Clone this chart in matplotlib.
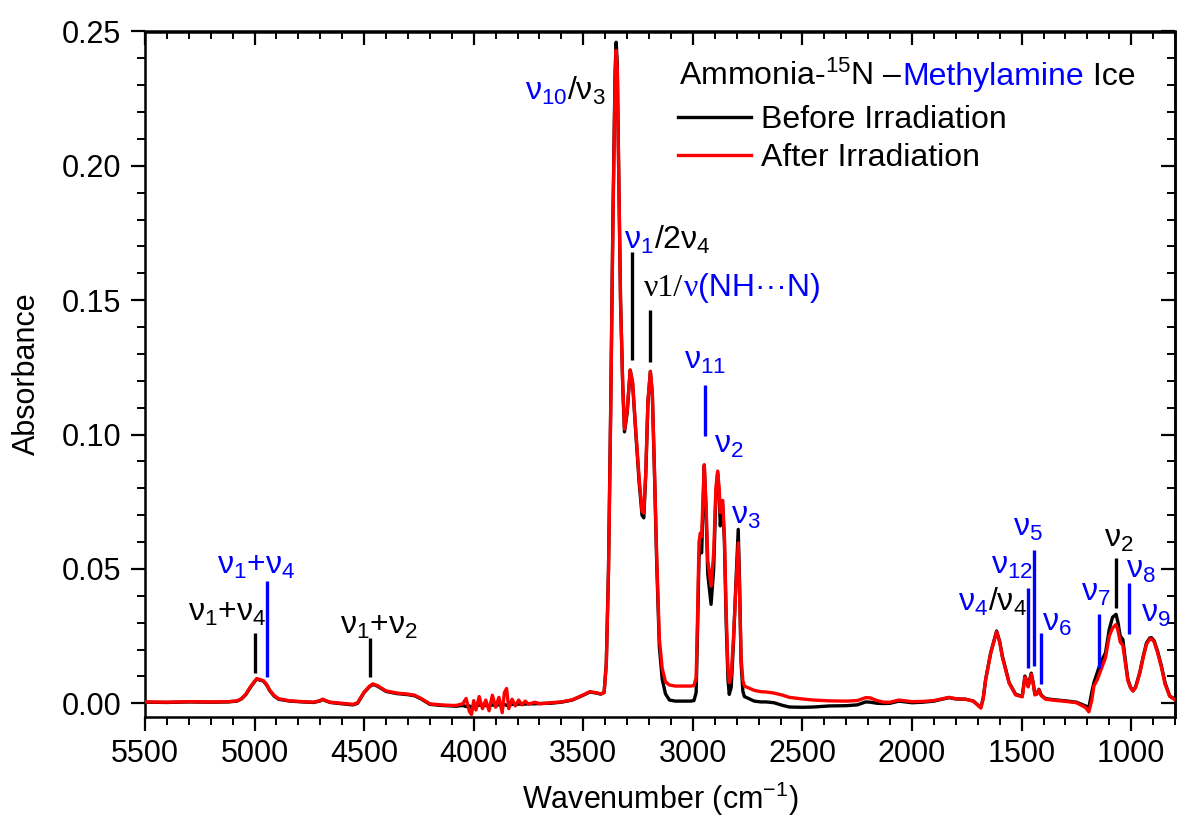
# IR spectrum: ammonia-15N / methylamine ice before and after irradiation
import matplotlib
matplotlib.use("Agg")
import matplotlib.pyplot as plt
import matplotlib.ticker as mtick
from matplotlib.offsetbox import TextArea, HPacker, AnnotationBbox

blue  = "#0000ff"
red   = "#ff0000"
black = "#000000"

plt.rcParams.update({
    "font.family":        ["Liberation Sans", "DejaVu Sans"],
    "mathtext.fontset":   "custom",
    "mathtext.rm":        "Liberation Sans",
    "mathtext.it":        "Liberation Sans",
    "mathtext.bf":        "Liberation Sans:bold",
    "mathtext.default":   "regular",
    "axes.linewidth":     1.8,
    "xtick.major.width":  1.6,
    "ytick.major.width":  1.6,
    "xtick.minor.width":  1.4,
    "ytick.minor.width":  1.4,
})

# spectrum (cm-1, absorbance)
wavenumber = [
    5500, 5400, 5300, 5200, 5120, 5080, 5060, 5040, 5020, 5000,
    4990, 4975, 4960, 4945, 4930, 4910, 4890, 4840, 4780, 4730,
    4700, 4690, 4675, 4655, 4600, 4550, 4530, 4500, 4475, 4460,
    4440, 4400, 4350, 4300, 4270, 4240, 4200, 4150, 4100, 4080,
    4050, 4035, 4020, 4010, 4000, 3990, 3975, 3960, 3945, 3930,
    3915, 3900, 3885, 3870, 3860, 3850, 3840, 3825, 3810, 3795,
    3780, 3765, 3750, 3720, 3700, 3650, 3600, 3550, 3500, 3470,
    3440, 3420, 3405, 3395, 3385, 3375, 3365, 3355, 3350, 3345,
    3338, 3330, 3320, 3312, 3300, 3286, 3275, 3260, 3245, 3232,
    3224, 3215, 3205, 3194, 3185, 3175, 3165, 3153, 3140, 3125,
    3107, 3080, 3040, 3010, 2995, 2985, 2978, 2972, 2966, 2960,
    2955, 2948, 2940, 2932, 2917, 2905, 2895, 2887, 2880, 2875,
    2864, 2856, 2848, 2840, 2834, 2825, 2815, 2805, 2793, 2787,
    2780, 2772, 2765, 2720, 2690, 2666, 2630, 2590, 2560, 2500,
    2450, 2378, 2300, 2250, 2211, 2190, 2160, 2130, 2100, 2060,
    2040, 2000, 1950, 1900, 1831, 1800, 1755, 1720, 1686, 1675,
    1664, 1641, 1614, 1600, 1588, 1557, 1527, 1497, 1485, 1477,
    1470, 1456, 1448, 1439, 1430, 1421, 1410, 1390, 1350, 1299,
    1250, 1208, 1193, 1180, 1170, 1155, 1140, 1117, 1100, 1085,
    1069, 1060, 1050, 1038, 1025, 1015, 1003, 992, 980, 961,
    945, 930, 915, 907, 895, 880, 862, 845, 824, 800,
]
before = [
    0.0004, 0.0003, 0.0005, 0.0004, 0.0005, 0.0008, 0.0016, 0.0032, 0.0058, 0.0080,
    0.0090, 0.0086, 0.0083, 0.0068, 0.0046, 0.0026, 0.0015, 0.0008, 0.0005, 0.0003,
    0.0009, 0.0014, 0.0009, 0.0003, -0.0002, -0.0006, 0.0000, 0.0040, 0.0062, 0.0070,
    0.0064, 0.0044, 0.0036, 0.0032, 0.0028, 0.0016, -0.0004, -0.0008, -0.0010, -0.0011,
    -0.0008, -0.0012, -0.0010, -0.0015, -0.0008, -0.0012, -0.0006, -0.0010, -0.0008, -0.0010,
    -0.0006, -0.0009, -0.0005, -0.0008, -0.0004, -0.0008, -0.0006, -0.0004, -0.0005, -0.0003,
    -0.0004, -0.0003, -0.0002, -0.0002, -0.0001, 0.0000, 0.0004, 0.0012, 0.0030, 0.0042,
    0.0038, 0.0034, 0.0040, 0.0150, 0.0500, 0.1100, 0.1800, 0.2350, 0.2460, 0.2380,
    0.1950, 0.1500, 0.1180, 0.1010, 0.1080, 0.1240, 0.1190, 0.1000, 0.0820, 0.0700,
    0.0690, 0.0850, 0.1120, 0.1235, 0.1150, 0.0850, 0.0520, 0.0210, 0.0090, 0.0035,
    0.0012, 0.0008, 0.0008, 0.0008, 0.0010, 0.0040, 0.0300, 0.0545, 0.0572, 0.0560,
    0.0700, 0.0885, 0.0720, 0.0480, 0.0368, 0.0500, 0.0780, 0.0855, 0.0780, 0.0660,
    0.0740, 0.0600, 0.0300, 0.0090, 0.0033, 0.0060, 0.0220, 0.0420, 0.0647, 0.0450,
    0.0150, 0.0045, 0.0025, 0.0008, 0.0005, 0.0005, 0.0002, -0.0008, -0.0014, -0.0015,
    -0.0014, -0.0010, -0.0009, -0.0006, 0.0005, 0.0004, 0.0000, -0.0001, 0.0000, 0.0008,
    0.0006, 0.0002, 0.0004, 0.0008, 0.0021, 0.0016, 0.0015, 0.0008, -0.0016, 0.0020,
    0.0089, 0.0188, 0.0269, 0.0230, 0.0176, 0.0077, 0.0033, 0.0026, 0.0101, 0.0085,
    0.0064, 0.0112, 0.0080, 0.0033, 0.0036, 0.0052, 0.0030, 0.0017, 0.0013, 0.0009,
    0.0004, -0.0010, -0.0016, 0.0040, 0.0077, 0.0113, 0.0150, 0.0188, 0.0275, 0.0320,
    0.0331, 0.0300, 0.0250, 0.0238, 0.0150, 0.0089, 0.0060, 0.0046, 0.0060, 0.0114,
    0.0175, 0.0225, 0.0243, 0.0244, 0.0232, 0.0195, 0.0139, 0.0075, 0.0027, 0.0015,
]
after = [
    0.0005, 0.0004, 0.0006, 0.0005, 0.0006, 0.0009, 0.0017, 0.0034, 0.0060, 0.0082,
    0.0092, 0.0088, 0.0084, 0.0070, 0.0048, 0.0028, 0.0017, 0.0009, 0.0006, 0.0004,
    0.0010, 0.0015, 0.0010, 0.0004, 0.0000, -0.0004, 0.0002, 0.0042, 0.0064, 0.0072,
    0.0066, 0.0046, 0.0038, 0.0034, 0.0030, 0.0018, -0.0002, -0.0006, -0.0008, -0.0008,
    -0.0002, 0.0018, -0.0030, -0.0042, 0.0010, -0.0025, 0.0025, -0.0020, 0.0012, -0.0028,
    0.0030, -0.0015, 0.0022, -0.0035, 0.0040, 0.0055, -0.0020, 0.0015, -0.0010, 0.0012,
    -0.0006, 0.0008, -0.0003, 0.0004, -0.0002, 0.0002, 0.0005, 0.0013, 0.0031, 0.0043,
    0.0039, 0.0035, 0.0040, 0.0145, 0.0490, 0.1080, 0.1770, 0.2320, 0.2430, 0.2360,
    0.1940, 0.1490, 0.1180, 0.1020, 0.1085, 0.1240, 0.1195, 0.1010, 0.0835, 0.0715,
    0.0708, 0.0860, 0.1125, 0.1235, 0.1155, 0.0860, 0.0545, 0.0240, 0.0130, 0.0080,
    0.0068, 0.0064, 0.0064, 0.0064, 0.0066, 0.0095, 0.0350, 0.0600, 0.0634, 0.0620,
    0.0740, 0.0888, 0.0740, 0.0530, 0.0436, 0.0560, 0.0800, 0.0864, 0.0800, 0.0710,
    0.0755, 0.0620, 0.0340, 0.0130, 0.0077, 0.0100, 0.0240, 0.0410, 0.0597, 0.0420,
    0.0170, 0.0085, 0.0064, 0.0048, 0.0043, 0.0042, 0.0038, 0.0030, 0.0022, 0.0016,
    0.0012, 0.0009, 0.0008, 0.0010, 0.0021, 0.0020, 0.0010, 0.0004, 0.0004, 0.0012,
    0.0010, 0.0006, 0.0007, 0.0010, 0.0022, 0.0017, 0.0015, 0.0008, -0.0018, 0.0018,
    0.0088, 0.0186, 0.0266, 0.0227, 0.0173, 0.0075, 0.0031, 0.0024, 0.0097, 0.0082,
    0.0061, 0.0108, 0.0077, 0.0031, 0.0034, 0.0050, 0.0028, 0.0015, 0.0011, 0.0007,
    0.0002, -0.0016, -0.0032, 0.0010, 0.0065, 0.0087, 0.0120, 0.0170, 0.0250, 0.0280,
    0.0293, 0.0270, 0.0228, 0.0215, 0.0140, 0.0084, 0.0057, 0.0046, 0.0058, 0.0110,
    0.0170, 0.0220, 0.0239, 0.0240, 0.0228, 0.0190, 0.0134, 0.0070, 0.0026, 0.0013,
]

# band markers: position, bottom, top, colour
marker_wn     = [4999, 4945, 4474, 3279, 3195, 2943, 1469, 1443, 1410, 1146, 1069, 1012]
marker_bottom = [0.0114, 0.0099, 0.0096, 0.1279, 0.1269, 0.0994, 0.0133, 0.0139, 0.0071, 0.0133, 0.0356, 0.0257]
marker_top    = [0.0260, 0.0455, 0.0244, 0.1681, 0.1465, 0.1186, 0.0430, 0.0572, 0.0263, 0.0331, 0.0542, 0.0449]
marker_color  = [black, blue, black, black, black, blue, blue, blue, blue, blue, black, blue]

# band labels: left edge (cm-1), bottom (absorbance), pieces of (text, colour, family)
sans, serif = "Liberation Sans", "Liberation Serif"
band_labels = [
    (3768, 0.2220, [("ν$_{10}$", blue, sans), ("/ν$_3$", black, sans)]),
    (3312, 0.1663, [("ν$_1$", blue, sans), ("/2ν$_4$", black, sans)]),
    (3221, 0.1490, [("ν1/", black, serif), ("ν", blue, serif), ("(NH···N)", blue, sans)]),
    (3039, 0.1217, [("ν$_{11}$", blue, sans)]),
    (2902, 0.0907, [("ν$_2$", blue, sans)]),
    (2826, 0.0640, [("ν$_3$", blue, sans)]),
    (5303, 0.0281, [("ν$_1$+ν$_4$", black, sans)]),
    (5170, 0.0455, [("ν$_1$+ν$_4$", blue, sans)]),
    (4611, 0.0232, [("ν$_1$+ν$_2$", black, sans)]),
    (1792, 0.0319, [("ν$_4$", blue, sans), ("/ν$_4$", black, sans)]),
    (1638, 0.0455, [("ν$_{12}$", blue, sans)]),
    (1538, 0.0597, [("ν$_5$", blue, sans)]),
    (1407, 0.0244, [("ν$_6$", blue, sans)]),
    (1231, 0.0356, [("ν$_7$", blue, sans)]),
    (1123, 0.0554, [("ν$_2$", black, sans)]),
    (1023, 0.0439, [("ν$_8$", blue, sans)]),
    (953,  0.0275, [("ν$_9$", blue, sans)]),
]

label_fs = 23
tick_fs  = 22


def packed_text(pieces, fs):
    areas = [TextArea(s, textprops=dict(color=c, fontsize=fs, family=f))
             for s, c, f in pieces]
    return HPacker(children=areas, align="baseline", pad=0, sep=0)


fig = plt.figure(figsize=(11.77, 8.36), dpi=100)
ax = fig.add_axes([145 / 1177, 119.3 / 836, 1030 / 1177, 685.2 / 836])

ax.plot(wavenumber, before, color=black, lw=2.4, label="Before Irradiation", zorder=3)
ax.plot(wavenumber, after, color=red, lw=2.4, label="After Irradiation", zorder=4)

ax.vlines(marker_wn, marker_bottom, marker_top, colors=marker_color, lw=2.4, zorder=5)

for x, y, pieces in band_labels:
    ab = AnnotationBbox(packed_text(pieces, label_fs), (x, y), xycoords="data",
                        box_alignment=(0, 0), frameon=False, pad=0)
    ax.add_artist(ab)

# legend title in three colours
title = packed_text([("Ammonia-$^{15}$N –", black, sans), ("Methylamine", blue, sans),
                     (" Ice", black, sans)], label_fs)
ax.add_artist(AnnotationBbox(title, (0.518, 0.912), xycoords="axes fraction",
                             box_alignment=(0, 0), frameon=False, pad=0))
ax.legend(loc="upper left", bbox_to_anchor=(0.517, 0.893), frameon=False,
          fontsize=label_fs, handlelength=2.3, handletextpad=0.3,
          labelspacing=0.27, borderpad=0, borderaxespad=0)

ax.set_xlim(5500, 800)
ax.set_ylim(-0.005, 0.25)
ax.xaxis.set_major_locator(mtick.MultipleLocator(500))
ax.xaxis.set_minor_locator(mtick.MultipleLocator(100))
ax.yaxis.set_major_locator(mtick.MultipleLocator(0.05))
ax.yaxis.set_minor_locator(mtick.MultipleLocator(0.01))
ax.yaxis.set_major_formatter(mtick.FormatStrFormatter("%.2f"))
ax.tick_params(which="both", direction="out", labelsize=tick_fs)
ax.tick_params(axis="x", pad=6)
ax.tick_params(axis="y", pad=7)
ax.tick_params(which="major", length=10)
ax.tick_params(which="minor", length=6)

top = ax.secondary_xaxis("top")
top.xaxis.set_major_locator(mtick.MultipleLocator(500))
top.xaxis.set_minor_locator(mtick.MultipleLocator(100))
top.tick_params(which="both", direction="in", labeltop=False)
top.tick_params(which="major", length=10)
top.tick_params(which="minor", length=6)
right = ax.secondary_yaxis("right")
right.yaxis.set_major_locator(mtick.MultipleLocator(0.05))
right.yaxis.set_minor_locator(mtick.MultipleLocator(0.01))
right.tick_params(which="both", direction="in", labelright=False)
right.tick_params(which="major", length=10)
right.tick_params(which="minor", length=6)

ax.set_xlabel("Wavenumber (cm$^{-1}$)", fontsize=tick_fs, labelpad=8)
ax.set_ylabel("Absorbance", fontsize=tick_fs, labelpad=14)

fig.savefig("out.png", dpi=100)
